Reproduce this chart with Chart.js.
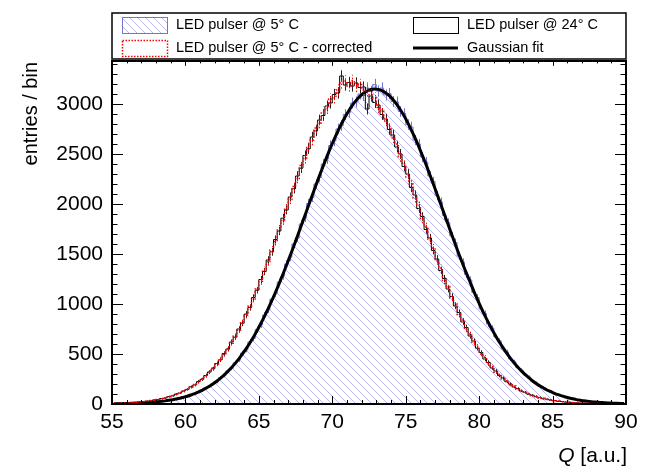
<!DOCTYPE html>
<html>
<head>
<meta charset="utf-8">
<script src="https://cdn.jsdelivr.net/npm/chart.js@4.4.0/dist/chart.umd.min.js"></script>
<style>
  html, body { margin: 0; padding: 0; background: #fff; }
</style>
</head>
<body>
<canvas id="c" width="646" height="469"></canvas>
<script>
// ---- binning / axes ----
const Q_MIN = 55, Q_MAX = 90, BIN_W = 0.25;
const Y_MAX = 3430;
const X_TICKS = [55, 60, 65, 70, 75, 80, 85, 90];
const Y_TICKS = [0, 500, 1000, 1500, 2000, 2500, 3000];

// ---- entries per bin (0.25 wide bins, 55 .. 90) ----
const led5 = [
  2, 4, 3, 5, 6, 6, 9, 8, 12, 14, 15, 21, 21, 28, 30, 38,
  41, 52, 56, 71, 76, 93, 100, 124, 133, 160, 172, 208, 221, 264, 283, 331,
  355, 412, 441, 510, 540, 620, 655, 745, 790, 890, 940, 1048, 1100, 1220, 1280, 1400,
  1465, 1600, 1660, 1800, 1862, 2005, 2065, 2200, 2265, 2400, 2450, 2585, 2630, 2750, 2785, 2895,
  2915, 3010, 3020, 3100, 3085, 3160, 3125, 3195, 3130, 3160, 3090, 3105, 3025, 3020, 2925, 2905,
  2795, 2770, 2640, 2600, 2470, 2420, 2280, 2225, 2085, 2020, 1885, 1815, 1680, 1615, 1480, 1420,
  1295, 1240, 1115, 1065, 950, 905, 800, 760, 670, 632, 552, 520, 450, 422, 362, 338,
  290, 270, 226, 212, 176, 166, 134, 128, 102, 97, 77, 73, 57, 55, 41, 40,
  30, 29, 21, 21, 15, 15, 11, 11, 7, 8, 5, 5
];

const led24 = [
  5, 7, 8, 9, 12, 14, 17, 20, 22, 29, 31, 40, 44, 55, 60, 75,
  82, 99, 110, 131, 146, 172, 190, 224, 247, 285, 320, 352, 405, 441, 505, 548,
  620, 668, 750, 808, 899, 965, 1065, 1138, 1245, 1325, 1440, 1522, 1645, 1730, 1858, 1940,
  2070, 2152, 2280, 2358, 2485, 2552, 2670, 2731, 2840, 2885, 2980, 3010, 3095, 3110, 3280, 3190,
  3215, 3180, 3210, 3165, 3170, 2950, 3080, 3015, 2990, 2895, 2850, 2745, 2690, 2570, 2500, 2375,
  2300, 2165, 2090, 1955, 1875, 1745, 1660, 1535, 1450, 1335, 1255, 1150, 1075, 980, 915, 820,
  765, 680, 630, 558, 515, 450, 415, 360, 330, 284, 260, 222, 200, 170, 155, 130,
  118, 97, 88, 72, 66, 52, 48, 38, 35, 27, 25, 19, 18, 13, 12, 9,
  9, 6, 6, 4, 4, 3, 3, 2, 2, 1, 1, 1
];

const led5corr = [
  6, 6, 9, 10, 11, 14, 16, 20, 24, 27, 34, 37, 46, 52, 63, 71,
  86, 96, 114, 127, 150, 168, 196, 218, 253, 280, 321, 360, 398, 450, 495, 556,
  608, 680, 738, 822, 885, 978, 1050, 1150, 1228, 1340, 1422, 1540, 1625, 1748, 1835, 1960,
  2045, 2175, 2255, 2385, 2455, 2580, 2640, 2760, 2810, 2920, 2955, 3050, 3060, 3140, 3210, 3230,
  3180, 3235, 3175, 3195, 3140, 3130, 3090, 3060, 2965, 2930, 2830, 2775, 2660, 2600, 2470, 2400,
  2270, 2200, 2060, 1985, 1850, 1770, 1640, 1560, 1430, 1360, 1235, 1175, 1060, 1000, 895, 840,
  745, 700, 612, 575, 500, 468, 400, 378, 318, 298, 250, 232, 192, 180, 148, 138,
  112, 104, 82, 79, 61, 58, 45, 42, 33, 30, 23, 21, 16, 15, 11, 10,
  8, 7, 5, 5, 4, 3, 3, 2, 2, 1, 1, 1
];

// gaussian fit to the 5 C histogram, read at the bin centres
const gausFit = [
  2.5, 3.0, 3.7, 4.5, 5.4, 6.5, 7.8, 9.4, 11.3, 13.4, 16.0, 19.0, 22.5, 26.6, 31.2, 36.7,
  43, 50, 58, 68, 78, 90, 104, 119, 137, 156, 177, 201, 227, 257, 289, 324,
  362, 404, 449, 498, 551, 608, 668, 733, 802, 874, 951, 1031, 1115, 1202, 1292, 1385,
  1481, 1578, 1678, 1779, 1880, 1982, 2083, 2183, 2282, 2378, 2471, 2561, 2646, 2727, 2802, 2871,
  2933, 2988, 3036, 3076, 3107, 3130, 3145, 3150, 3146, 3134, 3113, 3083, 3045, 2999, 2945, 2884,
  2816, 2742, 2663, 2579, 2489, 2397, 2301, 2203, 2103, 2002, 1901, 1799, 1697, 1597, 1498, 1404,
  1311, 1223, 1132, 1048, 966, 889, 816, 746, 681, 620, 563, 509, 459, 413, 370, 331,
  296, 263, 233, 206, 182, 160, 140, 123, 107, 93, 81, 70, 60, 52, 44, 38,
  32, 27, 23, 20, 17, 14, 12, 10, 8, 7, 6, 5
];

const BLUE_LINE = '#7373d2';
const BLUE_HATCH = '#b8b8ee';
const FONT = '"Liberation Sans", Arial, Helvetica, sans-serif';

const binCenters = led5.map((_, i) => Q_MIN + (i + 0.5) * BIN_W);
const toXY = (arr) => arr.map((v, i) => ({ x: binCenters[i], y: v }));

// diagonal hatch ("\\\") like ROOT fill style 3004-ish
function makeHatch(color) {
  const s = 8;
  const tile = document.createElement('canvas');
  tile.width = s; tile.height = s;
  const g = tile.getContext('2d');
  g.strokeStyle = color;
  g.lineWidth = 1;
  g.beginPath();
  g.moveTo(-1, -1); g.lineTo(s + 1, s + 1);
  g.moveTo(-1, s - 1); g.lineTo(1, s + 1);
  g.moveTo(s - 1, -1); g.lineTo(s + 1, 1);
  g.stroke();
  return g.createPattern(tile, 'repeat');
}
const hatch = makeHatch(BLUE_HATCH);

// ── error bars: sqrt(N), drawn right after each histogram ──
const errorBars = {
  id: 'errorBars',
  afterDatasetDraw(chart, args) {
    const ds = chart.data.datasets[args.index];
    if (!ds.errColor) return;
    const { ctx, chartArea: a, scales: { x, y } } = chart;
    ctx.save();
    ctx.beginPath();
    ctx.rect(a.left, a.top, a.width, a.height);
    ctx.clip();
    ctx.strokeStyle = ds.errColor;
    ctx.lineWidth = 1;
    ctx.setLineDash(ds.errDash || []);
    ds.data.forEach((p) => {
      const e = Math.sqrt(p.y);
      const px = Math.round(x.getPixelForValue(p.x)) + 0.5;
      ctx.beginPath();
      ctx.moveTo(px, y.getPixelForValue(p.y - e));
      ctx.lineTo(px, y.getPixelForValue(p.y + e));
      ctx.stroke();
    });
    ctx.restore();
  },
};

// ── frame, inward ticks, titles, legend (ROOT look) ──
const rootFrame = {
  id: 'rootFrame',
  afterDraw(chart) {
    const { ctx, chartArea: a, scales: { x, y } } = chart;
    ctx.save();
    ctx.strokeStyle = '#000';

    // ticks
    ctx.lineWidth = 1;
    ctx.beginPath();
    for (let v = Q_MIN; v <= Q_MAX; v += 1) {
      const px = Math.round(x.getPixelForValue(v)) + 0.5;
      const len = v % 5 === 0 ? 8 : 4;
      ctx.moveTo(px, a.bottom); ctx.lineTo(px, a.bottom - len);
      ctx.moveTo(px, a.top); ctx.lineTo(px, a.top + len * 0.6);
    }
    for (let v = 0; v <= Y_MAX; v += 100) {
      const py = Math.round(y.getPixelForValue(v)) + 0.5;
      const len = v % 500 === 0 ? 11 : 5.5;
      ctx.moveTo(a.left, py); ctx.lineTo(a.left + len, py);
      ctx.moveTo(a.right, py); ctx.lineTo(a.right - len, py);
    }
    ctx.stroke();

    // frame
    ctx.lineWidth = 2;
    ctx.strokeRect(a.left, a.top, a.width, a.height);

    // axis titles
    ctx.fillStyle = '#000';
    ctx.textBaseline = 'middle';
    ctx.font = '21px ' + FONT;
    const rest = ' [a.u.]';
    const wRest = ctx.measureText(rest).width;
    ctx.textAlign = 'right';
    ctx.fillText(rest, a.right + 1, 456);
    ctx.font = 'italic 21px ' + FONT;
    ctx.fillText('Q', a.right + 1 - wRest, 456);

    ctx.font = '20px ' + FONT;
    ctx.translate(31, a.top + 1);
    ctx.rotate(-Math.PI / 2);
    ctx.textAlign = 'right';
    ctx.fillText('entries / bin', 0, 0);
    ctx.restore();

    // legend
    const ds = chart.data.datasets;
    const L = { x: a.left, y: 13, w: a.width, h: 46 };
    ctx.save();
    ctx.fillStyle = '#fff';
    ctx.fillRect(L.x, L.y, L.w, L.h);
    ctx.strokeStyle = '#000';
    ctx.lineWidth = 1.5;
    ctx.strokeRect(L.x, L.y, L.w, L.h);

    const rows = [25, 48];
    const cols = [122, 413];
    const boxW = 45, boxH = 16;
    ctx.font = '14.5px ' + FONT;
    ctx.textBaseline = 'middle';
    ctx.textAlign = 'left';

    // 5 C hatched
    ctx.fillStyle = hatch;
    ctx.fillRect(cols[0], rows[0] - boxH / 2, boxW, boxH);
    ctx.strokeStyle = BLUE_LINE; ctx.lineWidth = 1;
    ctx.strokeRect(cols[0] + 0.5, rows[0] - boxH / 2 + 0.5, boxW, boxH);
    // 24 C outline
    ctx.strokeStyle = '#000';
    ctx.strokeRect(cols[1] + 0.5, rows[0] - boxH / 2 + 0.5, boxW, boxH);
    // corrected: dotted red
    ctx.strokeStyle = '#ff0000'; ctx.setLineDash([1.5, 1.5]); ctx.lineWidth = 1.5;
    ctx.strokeRect(cols[0] + 0.5, rows[1] - boxH / 2 + 0.5, boxW, boxH);
    ctx.setLineDash([]);
    // fit line
    ctx.strokeStyle = '#000'; ctx.lineWidth = 3;
    ctx.beginPath(); ctx.moveTo(cols[1], rows[1]); ctx.lineTo(cols[1] + boxW, rows[1]); ctx.stroke();

    ctx.fillStyle = '#000';
    ctx.fillText(ds[0].label, cols[0] + 54, rows[0]);
    ctx.fillText(ds[1].label, cols[1] + 54, rows[0]);
    ctx.fillText(ds[2].label, cols[0] + 54, rows[1]);
    ctx.fillText(ds[3].label, cols[1] + 54, rows[1]);
    ctx.restore();
  },
};

new Chart(document.getElementById('c'), {
  type: 'line',
  data: {
    datasets: [
      {
        label: 'LED pulser @ 5\u00b0 C',
        data: toXY(led5),
        stepped: 'middle',
        borderColor: BLUE_LINE,
        borderWidth: 1,
        backgroundColor: hatch,
        fill: 'origin',
        pointRadius: 0,
        errColor: BLUE_LINE,
        order: 4,
      },
      {
        label: 'LED pulser @ 24\u00b0 C',
        data: toXY(led24),
        stepped: 'middle',
        borderColor: '#000',
        borderWidth: 1,
        fill: false,
        pointRadius: 0,
        errColor: '#222',
        order: 2,
      },
      {
        label: 'LED pulser @ 5\u00b0 C - corrected',
        data: toXY(led5corr),
        stepped: 'middle',
        borderColor: '#ff0000',
        borderWidth: 1.5,
        borderDash: [1.5, 2],
        fill: false,
        pointRadius: 0,
        errColor: '#ff0000',
        errDash: [1.5, 2],
        order: 1,
      },
      {
        label: 'Gaussian fit',
        data: toXY(gausFit),
        borderColor: '#000',
        borderWidth: 3,
        cubicInterpolationMode: 'monotone',
        fill: false,
        pointRadius: 0,
        order: 3,
      },
    ],
  },
  options: {
    responsive: false,
    animation: false,
    events: [],
    layout: { padding: { top: 61, right: 20, left: 0, bottom: 0 } },
    plugins: {
      legend: { display: false },
      tooltip: { enabled: false },
    },
    scales: {
      x: {
        type: 'linear',
        min: Q_MIN,
        max: Q_MAX,
        afterBuildTicks: (s) => { s.ticks = X_TICKS.map((v) => ({ value: v })); },
        afterFit: (s) => { s.height = 65; },
        grid: { display: false, drawTicks: false },
        border: { display: false },
        ticks: {
          color: '#000',
          padding: 6,
          maxRotation: 0,
          autoSkip: false,
          font: { family: FONT, size: 21 },
          callback: (v) => String(v),
        },
      },
      y: {
        type: 'linear',
        min: 0,
        max: Y_MAX,
        afterBuildTicks: (s) => { s.ticks = Y_TICKS.map((v) => ({ value: v })); },
        afterFit: (s) => { s.width = 112; },
        grid: { display: false, drawTicks: false },
        border: { display: false },
        ticks: {
          color: '#000',
          padding: 9,
          autoSkip: false,
          font: { family: FONT, size: 21 },
          callback: (v) => String(v),
        },
      },
    },
  },
  plugins: [errorBars, rootFrame],
});
</script>
</body>
</html>
